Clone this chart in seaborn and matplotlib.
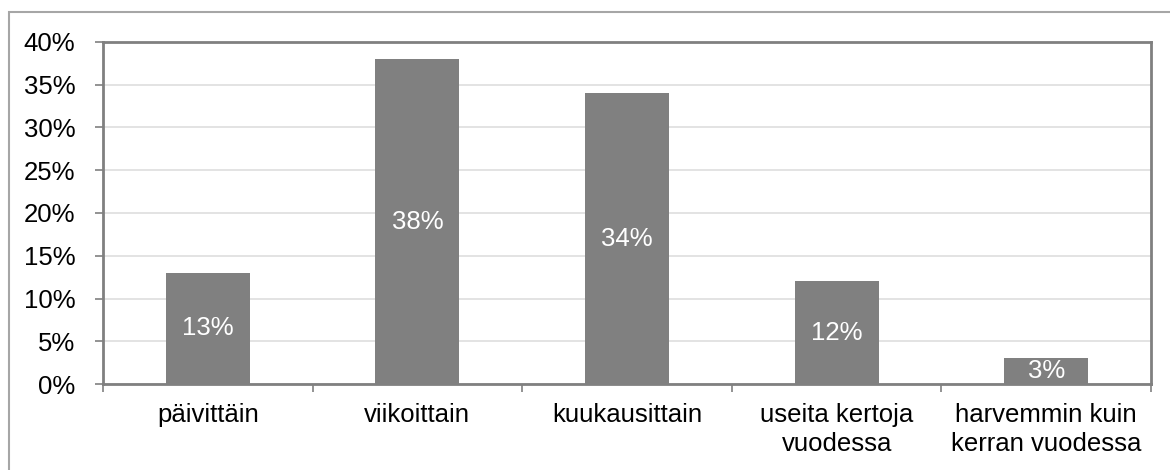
import matplotlib
matplotlib.use("Agg")
import matplotlib.pyplot as plt
from matplotlib.patches import Rectangle
from matplotlib.ticker import FuncFormatter, FixedLocator
import seaborn as sns
import pandas as pd

categories = ["päivittäin", "viikoittain", "kuukausittain",
              "useita kertoja\nvuodessa", "harvemmin kuin\nkerran vuodessa"]
shares = [13, 38, 34, 12, 3]
y_ticks = [0, 5, 10, 15, 20, 25, 30, 35, 40]

sns.set_theme(style="white")
plt.rcParams["font.family"] = ["Liberation Sans", "DejaVu Sans"]

df = pd.DataFrame({"category": categories, "share": shares})

fig = plt.figure(figsize=(11.7, 4.7), dpi=100)
ax = fig.add_axes([103 / 1170, 1 - 384 / 470, (1151 - 103) / 1170, (384 - 42) / 470])

# outer chart frame
fig.patches.append(Rectangle((9 / 1170, -0.2), 1.2, 0.2 + 1 - 12 / 470,
                             transform=fig.transFigure, fill=False,
                             edgecolor="#a6a6a6", linewidth=1.5, zorder=0))

sns.barplot(data=df, x="category", y="share", color="#808080", width=0.4,
            saturation=1, linewidth=0, ax=ax, zorder=3)

for patch, val in zip(ax.patches, shares):
    cx = patch.get_x() + patch.get_width() / 2
    ax.text(cx, val / 2, f"{val}%", ha="center", va="center",
            color="white", fontsize=18.5, zorder=4)

ax.set_ylim(0, 40)
ax.set_xlim(-0.5, len(categories) - 0.5)
ax.yaxis.set_major_locator(FixedLocator(y_ticks))
ax.yaxis.set_major_formatter(FuncFormatter(lambda v, _: f"{v:.0f}%"))
ax.grid(axis="y", color="#dedede", linewidth=1.2, zorder=0)
ax.set_axisbelow(True)

ax.set_xlabel("")
ax.set_ylabel("")
ax.set_xticks(range(len(categories)))
ax.set_xticklabels(categories, fontsize=18.5, color="black", linespacing=1.25)
ax.tick_params(axis="x", length=0, pad=14)
ax.set_xticks([i - 0.5 for i in range(len(categories) + 1)], minor=True)
ax.tick_params(axis="x", which="minor", length=6, width=1.2, color="#808080",
               direction="out", bottom=True)
ax.tick_params(axis="y", length=6, width=1.2, color="#808080", direction="out",
               left=True, labelsize=18.5, labelcolor="black", pad=14)

for side in ["left", "right", "top", "bottom"]:
    ax.spines[side].set_visible(True)
    ax.spines[side].set_color("#808080")
    ax.spines[side].set_linewidth(2)

fig.savefig("out.png", dpi=100)
